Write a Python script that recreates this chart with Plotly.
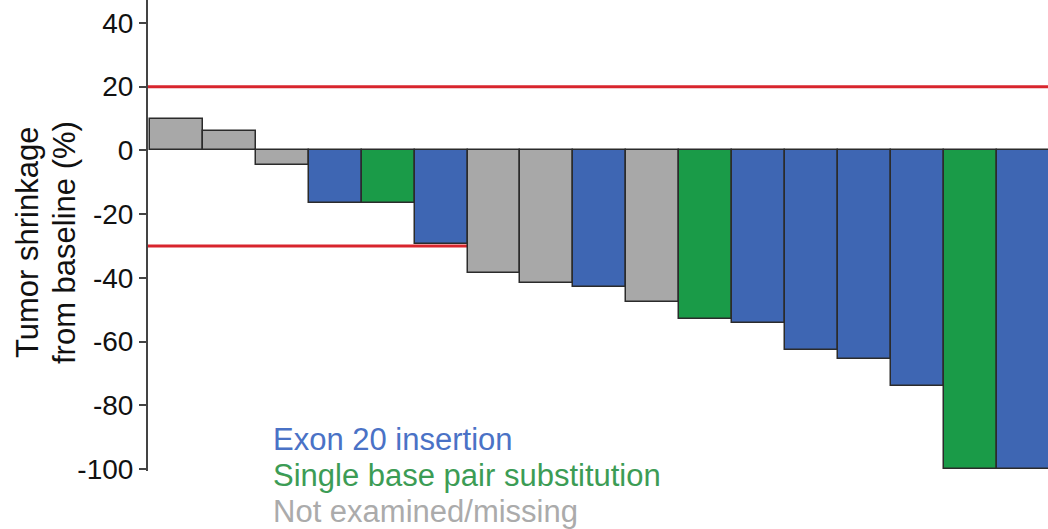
import plotly.graph_objects as go

# Best percentage change in tumour size per patient, ordered waterfall-style
patients = list(range(1, 18))
shrinkage = [10, 6, -4.7, -16.5, -16.5, -29.5, -38.5, -41.5, -43, -47.5,
             -53, -54, -62.5, -65.5, -74, -100, -100]
mutation = ["NA", "NA", "NA", "EX20", "SBS", "EX20", "NA", "NA", "EX20", "NA",
            "SBS", "EX20", "EX20", "EX20", "EX20", "SBS", "EX20"]

mutation_labels = {
    "EX20": "Exon 20 insertion",
    "SBS": "Single base pair substitution",
    "NA": "Not examined/missing",
}
bar_colors = {"EX20": "#3e66b3", "SBS": "#1a9b48", "NA": "#a8a8a8"}
text_colors = {"EX20": "#4a72c6", "SBS": "#3c9c55", "NA": "#ababab"}

y_ticks = [40, 20, 0, -20, -40, -60, -80, -100]
response_thresholds = [20, -30]

W, H = 1048, 529
L, B = 148, 58
FONT = "Liberation Sans, Arial, sans-serif"

fig = go.Figure()
fig.add_trace(go.Bar(
    x=[p - 1 for p in patients],
    y=shrinkage,
    marker=dict(color=[bar_colors[m] for m in mutation],
                line=dict(color="#2b2b2b", width=1.5)),
    width=1.0,
    showlegend=False,
))

# Progression (+20%) and partial-response (-30%) reference lines
for t in response_thresholds:
    fig.add_shape(type="line", xref="paper", x0=0, x1=1, yref="y", y0=t, y1=t,
                  line=dict(color="#d8252d", width=3), layer="below")

# Mutation-type key as coloured text
for i, key in enumerate(["EX20", "SBS", "NA"]):
    yc = [439.5, 475.5, 511.5][i]
    fig.add_annotation(text=mutation_labels[key], xref="paper", yref="paper",
                       x=(271 - L) / (W - L), y=(H - B - yc) / (H - B),
                       xanchor="left", yanchor="middle", showarrow=False,
                       font=dict(size=31, color=text_colors[key], family=FONT))

# Two-line y-axis title
for txt, xc in [("Tumor shrinkage", 27), ("from baseline (%)", 64)]:
    fig.add_annotation(text=txt, xref="paper", yref="paper",
                       x=(xc - L) / (W - L), y=(H - B - 243) / (H - B),
                       xanchor="center", yanchor="middle", textangle=-90,
                       showarrow=False,
                       font=dict(size=31, color="#111111", family=FONT))

fig.update_layout(
    width=W, height=H,
    margin=dict(l=L, r=0, t=0, b=B),
    paper_bgcolor="white", plot_bgcolor="white",
    bargap=0,
    font=dict(family=FONT, size=28, color="#111111"),
)
fig.update_xaxes(range=[-0.54, 16.47], showticklabels=False, ticks="",
                 showgrid=False, zeroline=False, showline=False)
fig.update_yaxes(range=[-100.6, 47.2], tickvals=y_ticks,
                 ticktext=[str(v) for v in y_ticks],
                 ticks="outside", ticklen=7, tickwidth=2, tickcolor="#444444",
                 showline=True, linecolor="#444444", linewidth=2,
                 showgrid=False, zeroline=False,
                 tickfont=dict(size=28, color="#111111", family=FONT))

fig.write_html("out.html")
